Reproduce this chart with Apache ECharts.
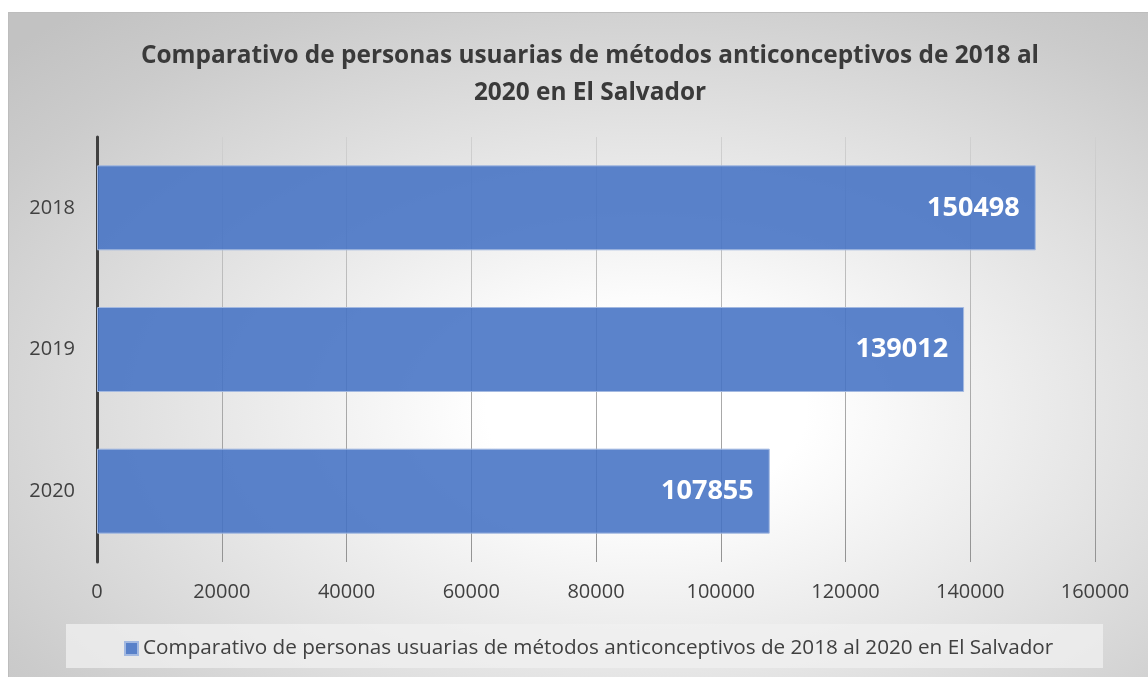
<!DOCTYPE html>
<html>
<head>
<meta charset="utf-8">
<script src="https://cdn.jsdelivr.net/npm/echarts@6/dist/echarts.min.js"></script>
<style>
  html, body { margin: 0; padding: 0; background: #fff; }
  #chart { width: 1148px; height: 677px; }
</style>
</head>
<body>
<div id="chart"></div>
<script>
// datos
var years = ['2018', '2019', '2020']
var usuarias = [150498, 139012, 107855]
var xTicks = [0, 20000, 40000, 60000, 80000, 100000, 120000, 140000, 160000]
var titulo = 'Comparativo de personas usuarias de métodos anticonceptivos de 2018 al 2020 en El Salvador'

var chart = echarts.init(document.getElementById('chart'))
var textColor = '#404040'
var font = 'Open Sans'

// fondo: degradado radial estirado (elipse)
var panelW = 1140
var panelH = 665
var sx = panelW / panelH

chart.setOption({
  animation: false,
  textStyle: { fontFamily: font },
  graphic: [
    {
      type: 'rect',
      x: 8,
      y: 12,
      scaleX: sx,
      z: -10,
      shape: { x: 0, y: 0, width: panelH, height: panelH },
      style: {
        fill: {
          type: 'radial',
          x: 0.56,
          y: 0.6,
          r: 0.78,
          colorStops: [
            { offset: 0, color: '#ffffff' },
            { offset: 0.18, color: '#ffffff' },
            { offset: 0.85, color: '#cbcbcb' },
            { offset: 1, color: '#c2c2c2' }
          ]
        }
      },
      silent: true
    },
    {
      type: 'polyline',
      z: -9,
      shape: { points: [[8.5, 677], [8.5, 12.5], [1148, 12.5]] },
      style: { stroke: '#bdbdbd', lineWidth: 1, fill: null },
      silent: true
    },
    {
      type: 'rect',
      z: -8,
      shape: { x: 66, y: 624, width: 1037, height: 44 },
      style: { fill: 'rgba(240,240,240,0.75)' },
      silent: true
    }
  ],
  title: {
    text: 'Comparativo de personas usuarias de métodos anticonceptivos de 2018 al\n2020 en El Salvador',
    left: 585,
    textAlign: 'center',
    top: 33,
    textStyle: {
      color: '#3a3a3a',
      fontFamily: font,
      fontWeight: 'bold',
      fontSize: 24.4,
      lineHeight: 37
    }
  },
  legend: {
    left: 119,
    top: 633,
    itemWidth: 13,
    itemHeight: 13,
    icon: 'rect',
    textStyle: { color: textColor, fontSize: 20.7, fontFamily: font },
    data: [titulo]
  },
  grid: {
    left: 97,
    right: 53,
    top: 137,
    bottom: 115
  },
  xAxis: {
    type: 'value',
    min: 0,
    max: 160000,
    interval: 20000,
    axisLine: { show: false },
    axisTick: { show: false },
    axisLabel: {
      color: textColor,
      fontSize: 20,
      margin: 20,
      formatter: function (v) {
        return xTicks.indexOf(v) >= 0 ? String(v) : ''
      }
    },
    splitLine: {
      show: true,
      lineStyle: {
        width: 1,
        color: {
          type: 'linear',
          x: 0, y: 137, x2: 0, y2: 562,
          global: true,
          colorStops: [
            { offset: 0, color: '#d0d0d0' },
            { offset: 1, color: '#939393' }
          ]
        }
      }
    }
  },
  yAxis: {
    type: 'category',
    data: years,
    inverse: true,
    axisLine: { show: true, lineStyle: { color: '#404040', width: 3 } },
    axisTick: { show: false },
    axisLabel: { color: textColor, fontSize: 20, margin: 22 }
  },
  series: [
    {
      name: titulo,
      type: 'bar',
      data: usuarias,
      barCategoryGap: '40%',
      itemStyle: {
        color: 'rgba(68,114,196,0.88)',
        borderColor: '#a3b9e1',
        borderWidth: 1
      },
      label: {
        show: true,
        position: 'insideRight',
        distance: 16,
        color: '#ffffff',
        fontWeight: 'bold',
        fontSize: 27,
        fontFamily: font
      }
    }
  ]
})
</script>
</body>
</html>
